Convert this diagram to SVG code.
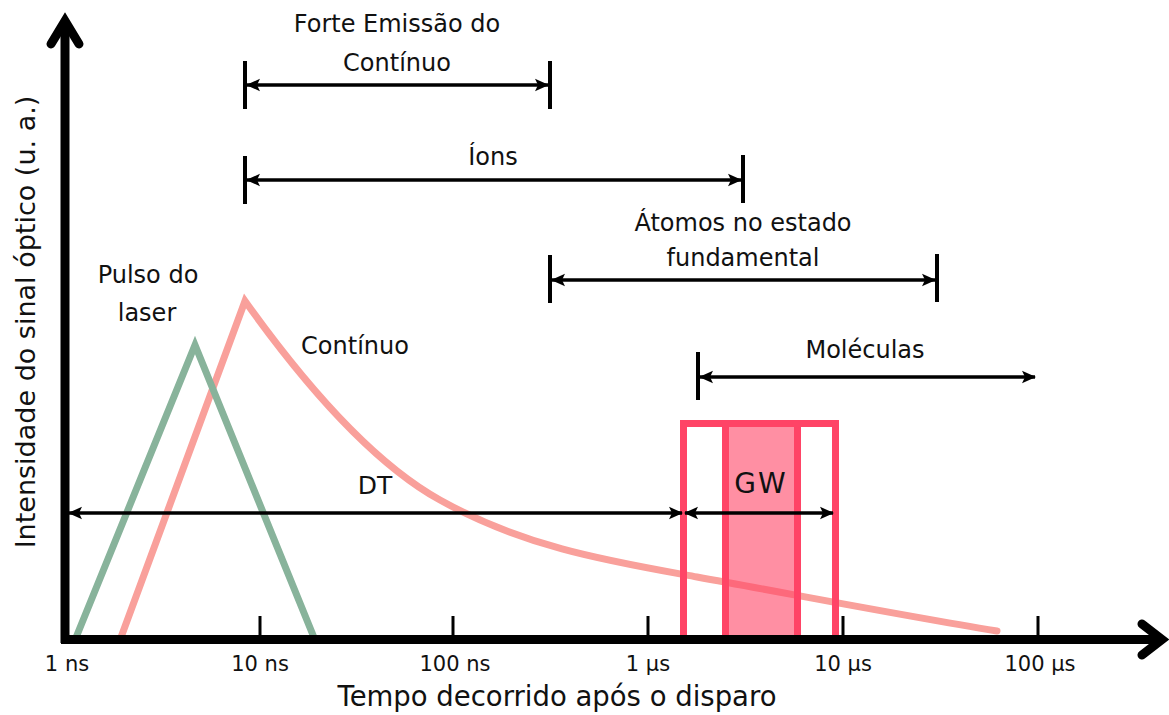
<svg xmlns="http://www.w3.org/2000/svg" width="1169" height="715" viewBox="0 0 1169 715">
<style>
text{font-family:"DejaVu Sans","Liberation Sans",sans-serif;fill:#111;}
.lbl{font-size:24px;text-anchor:middle;}
.tick{font-size:21px;text-anchor:middle;}
.bar{stroke:#000;stroke-width:4;fill:none;}
.dim{stroke:#000;stroke-width:3.5;fill:none;marker-start:url(#ah);marker-end:url(#ah);}
.axis{stroke:#000;stroke-width:9;fill:none;}
.chev{stroke:#000;stroke-width:9;fill:none;stroke-linecap:round;stroke-linejoin:miter;}
.tk{stroke:#000;stroke-width:3;}
.red{stroke:#ff4466;stroke-width:7;fill:none;}
</style>
<defs>
<marker id="ah" viewBox="0 0 14 14" refX="13" refY="7" markerWidth="14" markerHeight="14" markerUnits="userSpaceOnUse" orient="auto-start-reverse">
<path d="M0,0.8 L14,7 L0,13.2 L3,7 z" fill="#000"/>
</marker>
</defs>

<g id="curve-continuo">
<path d="M120,640 L245,301 C310,392 375,464 440,500 C526,548 611,561.5 697,577 C797,595 897,614.5 997,631" fill="none" stroke="#f9a09b" stroke-width="7" stroke-linecap="round" stroke-linejoin="miter"/>
</g>
<g id="curve-pulso">
<polyline points="75,640 195,345 315,640" fill="none" stroke="#88b39b" stroke-width="7" stroke-linejoin="miter"/>
</g>

<g id="gw-window">
<rect x="722" y="420" width="79" height="220" fill="#ff4466" fill-opacity="0.6"/>
<path class="red" d="M683.5,640 V423.5 H835.5 V640"/>
<line class="red" x1="725.5" y1="423" x2="725.5" y2="640"/>
<line class="red" x1="797.5" y1="423" x2="797.5" y2="640"/>
</g>

<g id="axes">
<line class="axis" x1="65" y1="643" x2="65" y2="22"/>
<polyline class="chev" points="51,44 65,21 79,44"/>
<line class="axis" x1="61" y1="639.5" x2="1160" y2="639.5"/>
<polyline class="chev" points="1142,624 1162,639.5 1142,655"/>
<line class="tk" x1="260" y1="616" x2="260" y2="637"/>
<line class="tk" x1="453" y1="616" x2="453" y2="637"/>
<line class="tk" x1="648" y1="616" x2="648" y2="637"/>
<line class="tk" x1="843" y1="616" x2="843" y2="637"/>
<line class="tk" x1="1038" y1="616" x2="1038" y2="637"/>
</g>

<g id="connectors">
<line class="bar" x1="245" y1="61" x2="245" y2="109"/>
<line class="bar" x1="550" y1="61" x2="550" y2="109"/>
<line class="dim" x1="247" y1="85" x2="548" y2="85"/>

<line class="bar" x1="245" y1="156" x2="245" y2="204"/>
<line class="bar" x1="743" y1="155" x2="743" y2="203"/>
<line class="dim" x1="247" y1="180" x2="741" y2="180"/>

<line class="bar" x1="550" y1="255" x2="550" y2="303"/>
<line class="bar" x1="937" y1="254" x2="937" y2="302"/>
<line class="dim" x1="552" y1="280" x2="935" y2="280"/>

<line class="bar" x1="698" y1="352" x2="698" y2="400"/>
<line class="dim" x1="700" y1="377" x2="1035" y2="377"/>

<line class="dim" x1="69" y1="513" x2="682" y2="513"/>
<line class="dim" x1="685" y1="513" x2="833" y2="513"/>
</g>

<g id="label-forte">
<text class="lbl" x="397" y="32">Forte Emissão do</text>
<text class="lbl" x="397" y="71">Contínuo</text>
</g>
<g id="label-ions"><text class="lbl" x="493" y="165">Íons</text></g>
<g id="label-atomos">
<text class="lbl" x="743" y="231">Átomos no estado</text>
<text class="lbl" x="743" y="266">fundamental</text>
</g>
<g id="label-moleculas"><text class="lbl" x="865" y="358">Moléculas</text></g>
<g id="label-pulso">
<text class="lbl" x="148" y="283">Pulso do</text>
<text class="lbl" x="147" y="321">laser</text>
</g>
<g id="label-continuo"><text class="lbl" x="355" y="354">Contínuo</text></g>
<g id="label-dt"><text class="lbl" x="375" y="494" style="font-size:25px">DT</text></g>
<g id="label-gw"><text class="lbl" x="761" y="493" style="font-size:28px;letter-spacing:2px">GW</text></g>

<g id="tick-labels">
<text class="tick" x="67" y="671">1 ns</text>
<text class="tick" x="260" y="671">10 ns</text>
<text class="tick" x="455" y="671">100 ns</text>
<text class="tick" x="648" y="671">1 µs</text>
<text class="tick" x="843" y="671">10 µs</text>
<text class="tick" x="1040" y="671">100 µs</text>
</g>
<g id="axis-titles">
<text x="557" y="706" style="font-size:27.5px;text-anchor:middle">Tempo decorrido após o disparo</text>
<text transform="translate(35,322) rotate(-90)" style="font-size:27px;text-anchor:middle">Intensidade do sinal óptico (u. a.)</text>
</g>
</svg>
